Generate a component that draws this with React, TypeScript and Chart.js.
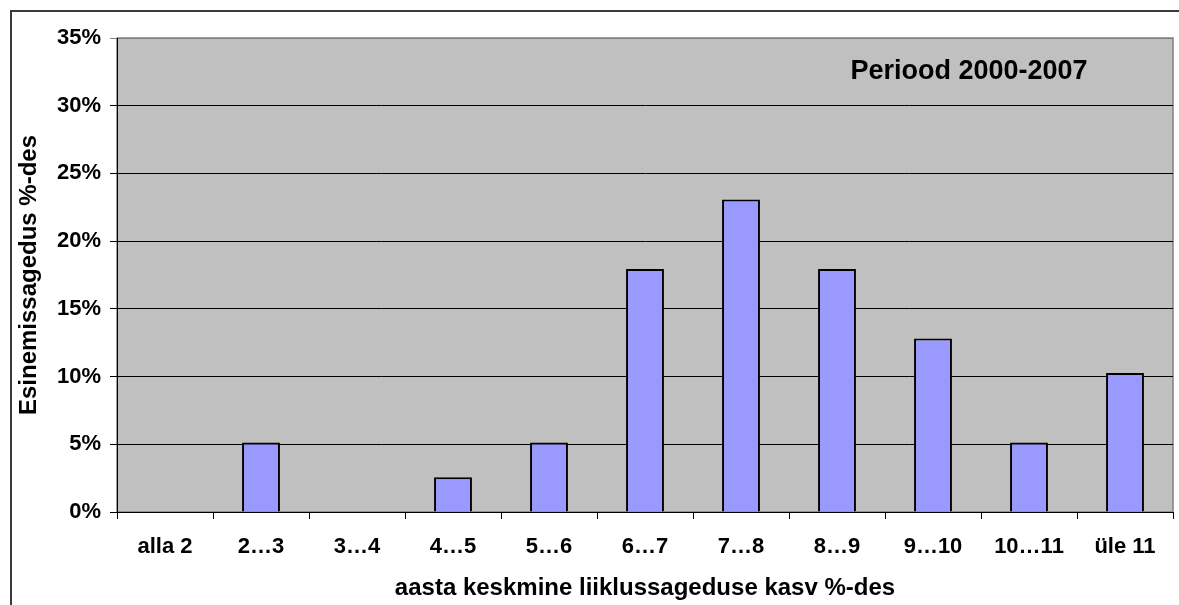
import React, { useEffect, useRef } from "react";
import { Chart, registerables } from "chart.js";

Chart.register(...registerables);

const CATEGORIES = ["alla 2", "2…3", "3…4", "4…5", "5…6", "6…7", "7…8", "8…9", "9…10", "10…11", "üle 11"];
const FREQUENCY = [0, 5.13, 0, 2.56, 5.13, 17.95, 23.08, 17.95, 12.82, 5.13, 10.26];
const Y_TICK_LABELS = ["0%", "5%", "10%", "15%", "20%", "25%", "30%", "35%"];
const CHART_TITLE = "Periood 2000-2007";
const X_TITLE = "aasta keskmine liiklussageduse kasv %-des";
const Y_TITLE = "Esinemissagedus %-des";

const FONT = "'Liberation Sans', Arial, sans-serif";

const decorPlugin = {
  id: "decor",
  beforeDraw(chart: any) {
    const { ctx, chartArea } = chart;
    ctx.save();
    ctx.fillStyle = "#ffffff";
    ctx.fillRect(0, 0, chart.width, chart.height);
    ctx.strokeStyle = "#3a3a3a";
    ctx.lineWidth = 2;
    ctx.strokeRect(11, 11, 3000, 3000);
    ctx.fillStyle = "#C0C0C0";
    ctx.fillRect(chartArea.left, chartArea.top, chartArea.right - chartArea.left, chartArea.bottom - chartArea.top);
    ctx.strokeStyle = "#808080";
    ctx.lineWidth = 1.5;
    ctx.strokeRect(chartArea.left, chartArea.top, chartArea.right - chartArea.left, chartArea.bottom - chartArea.top);
    ctx.restore();
  },
  afterDraw(chart: any) {
    const { ctx } = chart;
    ctx.save();
    ctx.fillStyle = "#000000";
    ctx.font = `bold 27px ${FONT}`;
    ctx.textAlign = "center";
    ctx.textBaseline = "alphabetic";
    ctx.fillText(CHART_TITLE, 969, 79);
    ctx.restore();
  },
};

export default function App() {
  const canvasRef = useRef<HTMLCanvasElement | null>(null);

  useEffect(() => {
    if (!canvasRef.current) return;
    const chart = new Chart(canvasRef.current, {
      type: "bar",
      data: {
        labels: CATEGORIES,
        datasets: [
          {
            data: FREQUENCY,
            backgroundColor: "#9999FF",
            borderColor: "#000000",
            borderWidth: 2,
            categoryPercentage: 1,
            barPercentage: 0.395,
          },
        ],
      },
      plugins: [decorPlugin],
      options: {
        animation: false,
        responsive: false,
        devicePixelRatio: 1,
        layout: { padding: { left: 0, top: 38, right: 6, bottom: 0 } },
        plugins: {
          legend: { display: false },
          tooltip: { enabled: false },
          title: { display: false },
        },
        scales: {
          x: {
            afterFit: (scale: any) => {
              scale.height = 93;
            },
            grid: {
              display: true,
              drawOnChartArea: false,
              drawTicks: true,
              tickLength: 7,
              color: "#000000",
              offset: true,
            },
            border: { display: true, color: "#000000", width: 1 },
            ticks: {
              color: "#000000",
              font: { family: FONT, size: 22, weight: "bold" },
              padding: 15,
              maxRotation: 0,
              autoSkip: false,
            },
            title: {
              display: true,
              text: X_TITLE,
              color: "#000000",
              font: { family: FONT, size: 24, weight: "bold" },
              padding: { top: 0, bottom: 2 },
            },
          },
          y: {
            min: 0,
            max: 35,
            afterFit: (scale: any) => {
              scale.width = 117;
            },
            grid: {
              color: (c: any) => (c.tick && c.tick.value === 35 ? "#808080" : "#000000"),
              tickLength: 7,
              drawTicks: true,
            },
            border: { display: true, color: "#000000", width: 1 },
            ticks: {
              stepSize: 5,
              color: "#000000",
              font: { family: FONT, size: 22, weight: "bold" },
              padding: 9,
              callback: (_v: any, i: number) => Y_TICK_LABELS[i],
            },
            title: {
              display: true,
              text: Y_TITLE,
              color: "#000000",
              font: { family: FONT, size: 24, weight: "bold" },
              padding: { top: 15, bottom: 0 },
            },
          },
        },
      },
    } as any);
    return () => chart.destroy();
  }, []);

  return (
    <div style={{ position: "absolute", left: 0, top: 0, width: 1179, height: 605 }}>
      <canvas ref={canvasRef} width={1179} height={605} style={{ display: "block" }} />
    </div>
  );
}
